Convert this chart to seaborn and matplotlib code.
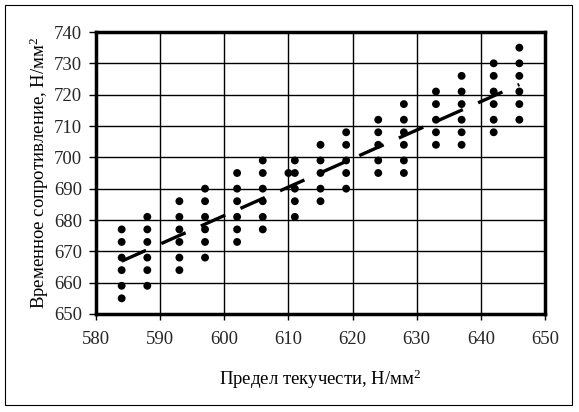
import matplotlib
matplotlib.use("Agg")
import matplotlib.pyplot as plt
import seaborn as sns
import pandas as pd
from matplotlib.patches import Rectangle

# Data: yield strength columns and tensile strength values at each
x_columns = [584, 588, 593, 597, 602, 606, 610, 611, 615, 619, 624, 628, 633, 637, 642, 646]
y_584 = [655, 659, 664, 668, 673, 677]
y_588 = [659, 664, 668, 673, 677, 681]
y_593 = [664, 668, 673, 677, 681, 686]
y_597 = [668, 673, 677, 681, 686, 690]
y_602 = [673, 677, 681, 686, 690, 695]
y_606 = [677, 681, 686, 690, 695, 699]
y_610 = [695]
y_611 = [681, 686, 690, 695, 699]
y_615 = [686, 690, 695, 699, 704]
y_619 = [690, 695, 699, 704, 708]
y_624 = [695, 699, 704, 708, 712]
y_628 = [695, 699, 704, 708, 712, 717]
y_633 = [704, 708, 712, 717, 721]
y_637 = [704, 708, 712, 717, 721, 726]
y_642 = [708, 712, 717, 721, 726, 730]
y_646 = [712, 717, 721, 726, 730, 735]
y_columns = [y_584, y_588, y_593, y_597, y_602, y_606, y_610, y_611,
             y_615, y_619, y_624, y_628, y_633, y_637, y_642, y_646]

x_ticks = [580, 590, 600, 610, 620, 630, 640, 650]
y_ticks = [650, 660, 670, 680, 690, 700, 710, 720, 730, 740]
x_label = "Предел текучести, Н/мм$^2$"
y_label = "Временное сопротивление, Н/мм$^2$"

rows = []
for xv, ys in zip(x_columns, y_columns):
    for yv in ys:
        rows.append({"x": xv, "y": yv})
df = pd.DataFrame(rows)

sns.set_theme(style="white")
plt.rcParams["font.family"] = ["Liberation Serif", "DejaVu Serif"]
plt.rcParams["mathtext.fontset"] = "custom"
plt.rcParams["mathtext.rm"] = "Liberation Serif"
plt.rcParams["mathtext.it"] = "Liberation Serif"

fig = plt.figure(figsize=(5.79, 4.12), dpi=100)
fig.patch.set_facecolor("white")
ax = fig.add_axes([96/579, 1 - 314/412, (545 - 96)/579, (314 - 32)/412])

ax.grid(True, color="black", linewidth=1.0)
ax.set_axisbelow(True)

sns.scatterplot(data=df, x="x", y="y", ax=ax, color="black", s=32,
                edgecolor="none", zorder=3)
sns.regplot(data=df, x="x", y="y", ax=ax, scatter=False, ci=None,
            color="black", line_kws=dict(linestyle=(0, (8, 5)), linewidth=2.4, zorder=4))

ax.set_xlim(580, 650)
ax.set_ylim(650, 740)
ax.set_xticks(x_ticks)
ax.set_yticks(y_ticks)
ax.tick_params(axis="x", direction="out", length=4, width=1, color="black",
               labelsize=13.5, pad=8, bottom=True)
ax.tick_params(axis="y", direction="out", length=5, width=1, color="black",
               labelsize=13.5, pad=5, left=True)
for s in ax.spines.values():
    s.set_visible(True)
    s.set_color("black")
    s.set_linewidth(2.5)

ax.set_xlabel(x_label, fontsize=13.5, labelpad=14, color="black")
ax.set_ylabel(y_label, fontsize=13.5, labelpad=2, color="black")

fig.patches.append(Rectangle((5/579, 1 - 405/412), (572 - 5)/579, (405 - 5)/412,
                             transform=fig.transFigure, fill=False,
                             edgecolor="black", linewidth=0.8))

fig.savefig("out.png", dpi=100, facecolor="white")
